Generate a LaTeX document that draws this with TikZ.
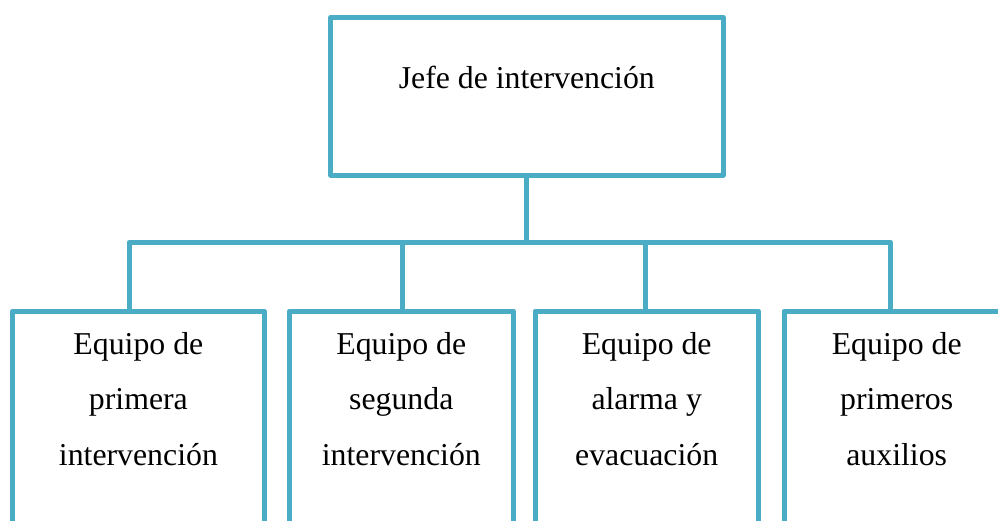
\documentclass[tikz,border=0pt]{standalone}
\usepackage{fontspec}
\setmainfont{Liberation Serif}
\definecolor{orgline}{RGB}{75,172,198}
\begin{document}
\begin{tikzpicture}[x=1pt,y=-1pt,
  orgbox/.style={draw=orgline, line width=5pt, rectangle, inner sep=0pt, outer sep=0pt, line join=round},
  conn/.style={draw=orgline, line width=5pt, line join=round},
  lbl/.style={font=\fontsize{31.8}{55.5}\selectfont, align=center, inner sep=0pt, text=black}]
\useasboundingbox (0,0) rectangle (998,520);
\clip (0,0) rectangle (998,520);
% boxes
\node[orgbox, minimum width=392.3pt, minimum height=157.7pt] (top) at (526.9,96.2) {};
\node[orgbox, minimum width=251.3pt, minimum height=289pt] (b1) at (138.4,455.5) {};
\node[orgbox, minimum width=224pt, minimum height=289pt] (b2) at (401.3,455.5) {};
\node[orgbox, minimum width=223.3pt, minimum height=289pt] (b3) at (646.7,455.5) {};
\node[orgbox, minimum width=225pt, minimum height=289pt] (b4) at (896.5,455.5) {};
% labels
\node[lbl, anchor=base] (ttop) at (526.8,88) {Jefe de intervención};
\node[lbl, anchor=north] (t1) at (138.4,332) {Equipo de\\primera\\intervención};
\node[lbl, anchor=north] (t2) at (401.3,332) {Equipo de\\segunda\\intervención};
\node[lbl, anchor=north] (t3) at (646.7,332) {Equipo de\\alarma y\\evacuación};
\node[lbl, anchor=north] (t4) at (896.7,332) {Equipo de\\primeros\\auxilios};
% bus coordinates
\coordinate (d1) at (129,242.3);
\coordinate (d2) at (402.7,242.3);
\coordinate (d3) at (645.7,242.3);
\coordinate (d4) at (890.7,242.3);
% connectors
\draw[conn] (top.south) -- (top.south |- d1);
\draw[conn] (d1 |- b1.north) -- (d1) -- (d4) -- (d4 |- b4.north);
\draw[conn] (d2) -- (d2 |- b2.north);
\draw[conn] (d3) -- (d3 |- b3.north);
\end{tikzpicture}
\end{document}
